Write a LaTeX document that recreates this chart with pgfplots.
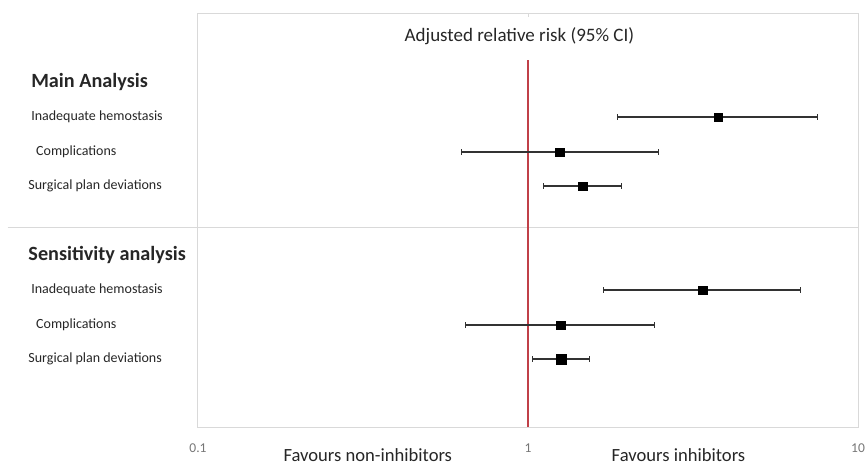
\documentclass[border=0pt]{standalone}
\usepackage{pgfplots}
\pgfplotsset{compat=1.18}
\usepackage{fontspec}
\setmainfont{Carlito}
\definecolor{frame}{RGB}{217,217,217}
\definecolor{redline}{RGB}{192,64,72}
\definecolor{txt}{RGB}{38,38,38}
\definecolor{ebar}{RGB}{50,50,50}
\definecolor{ticktxt}{RGB}{118,118,118}
\begin{document}
\begin{tikzpicture}
\useasboundingbox (0,0) rectangle (866pt,-466pt);
\begin{axis}[
  at={(198pt,-13pt)}, anchor=north west,
  scale only axis, width=660pt, height=414pt,
  xmode=log, xmin=0.1, xmax=10,
  ymin=13, ymax=427, y dir=reverse,
  axis line style={frame, line width=1pt},
  ytick=\empty,
  xtick={0.1,1,10}, xticklabels={0.1,1,10},
  major tick length=0pt, minor tick num=0,
  xminorticks=false,
  xticklabel style={font=\fontsize{13.5}{15}\selectfont, text=ticktxt, yshift=-13pt},
  /pgf/number format/assume math mode=true,
  clip=false,
]
% divider and reference line
\draw[frame, line width=1pt] (axis cs:0.0265,227) -- (axis cs:10,227);
\draw[frame, line width=1pt] (axis cs:1,13) -- (axis cs:1,17);
\draw[redline, line width=1.4pt] (axis cs:1,60) -- (axis cs:1,427);
% CI lines
\pgfplotsset{ci/.style={ebar, line width=1.1pt, mark=|, mark size=3pt, mark options={line width=0.9pt}}}
\addplot[ci] coordinates {(1.87,117) (7.53,117)};
\addplot[ci] coordinates {(0.629,152) (2.48,152)};
\addplot[ci] coordinates {(1.114,186) (1.92,186)};
\addplot[ci] coordinates {(1.694,290) (6.70,290)};
\addplot[ci] coordinates {(0.646,325) (2.41,325)};
\addplot[ci] coordinates {(1.035,359) (1.537,359)};
% point estimates
\addplot[only marks, mark=square*, mark size=4.3pt, black] coordinates {(3.77,117) (1.247,152) (1.464,186) (3.38,290) (1.256,325)};
\addplot[only marks, mark=square*, mark size=5pt, black] coordinates {(1.264,359)};
% texts
\node[text=txt, font=\fontsize{19}{22}\selectfont] at (axis cs:0.942,36) {Adjusted relative risk (95\% CI)};
\node[anchor=west, inner sep=0pt, text=txt, font=\bfseries\fontsize{20.2}{23}\selectfont] at (axis cs:0.0312,82) {Main Analysis};
\node[anchor=west, inner sep=0pt, text=txt, font=\fontsize{14}{16}\selectfont] at (axis cs:0.0312,117) {Inadequate hemostasis};
\node[anchor=west, inner sep=0pt, text=txt, font=\fontsize{14}{16}\selectfont] at (axis cs:0.0323,152) {Complications};
\node[anchor=west, inner sep=0pt, text=txt, font=\fontsize{14}{16}\selectfont] at (axis cs:0.0306,186) {Surgical plan deviations};
\node[anchor=west, inner sep=0pt, text=txt, font=\bfseries\fontsize{20.2}{23}\selectfont] at (axis cs:0.0306,255) {Sensitivity analysis};
\node[anchor=west, inner sep=0pt, text=txt, font=\fontsize{14}{16}\selectfont] at (axis cs:0.0312,290) {Inadequate hemostasis};
\node[anchor=west, inner sep=0pt, text=txt, font=\fontsize{14}{16}\selectfont] at (axis cs:0.0323,325) {Complications};
\node[anchor=west, inner sep=0pt, text=txt, font=\fontsize{14}{16}\selectfont] at (axis cs:0.0306,359) {Surgical plan deviations};
\node[text=txt, font=\fontsize{18.6}{21}\selectfont, inner sep=0pt] at (axis cs:0.327,455) {Favours non-inhibitors};
\node[text=txt, font=\fontsize{18.6}{21}\selectfont, inner sep=0pt] at (axis cs:2.858,455) {Favours inhibitors};
\end{axis}
\end{tikzpicture}
\end{document}
